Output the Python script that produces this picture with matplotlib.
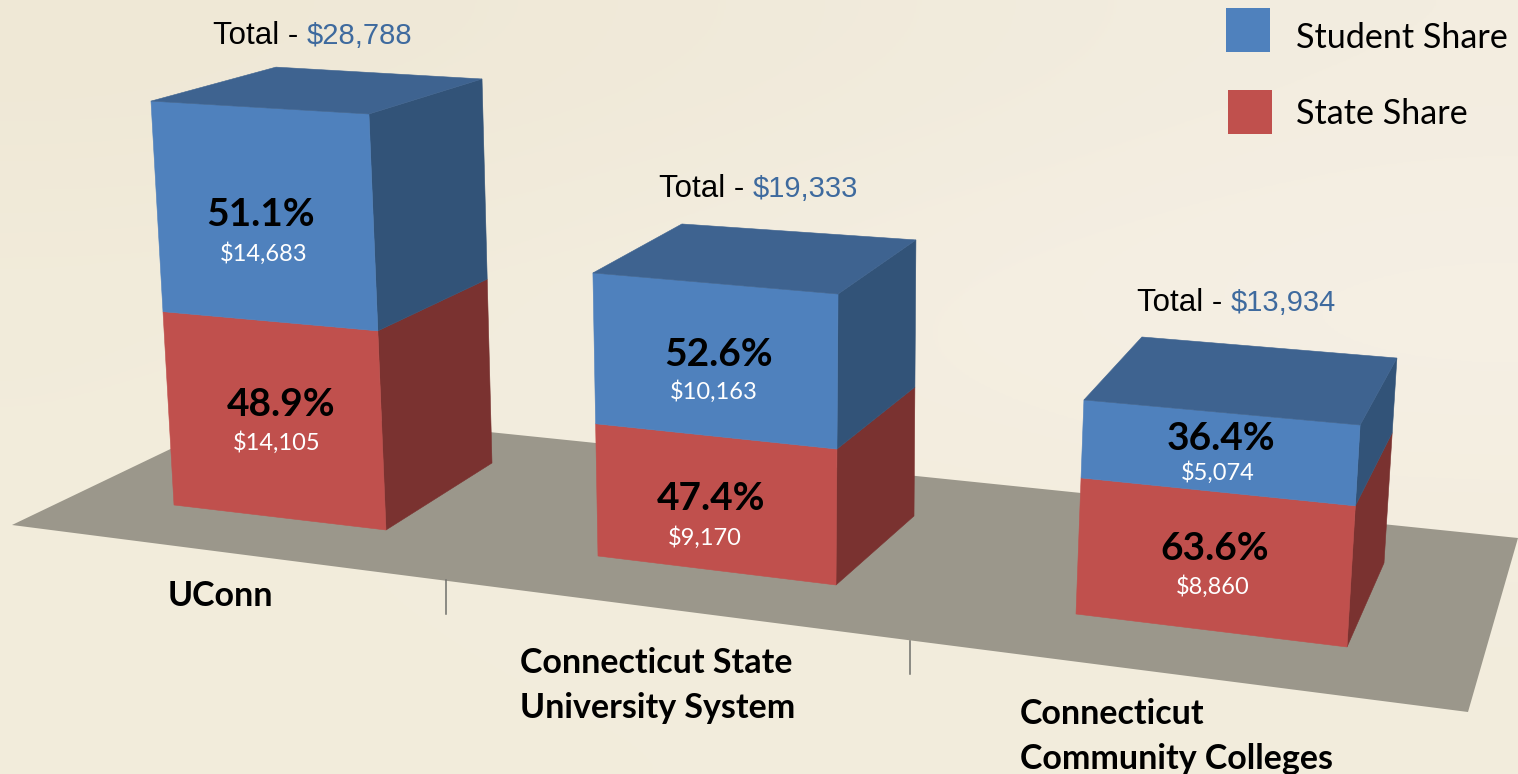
import numpy as np
import matplotlib
matplotlib.use("Agg")
import matplotlib.pyplot as plt
from matplotlib.patches import Polygon, Rectangle

# ---- data ----
categories = [["UConn"], ["Connecticut State", "University System"], ["Connecticut", "Community Colleges"]]
student_share = [14683, 10163, 5074]
state_share = [14105, 9170, 8860]
totals = [28788, 19333, 13934]
student_pct = [51.1, 52.6, 36.4]
state_pct = [48.9, 47.4, 63.6]
legend_labels = ["Student Share", "State Share"]

# ---- layout of the pseudo-3D scene (canvas pixels, y down) ----
W, H = 1518, 774
# base corners of each column: front-left, front-right, back-right
base_fl = [(174, 505), (598, 556), (1076, 614)]
base_fr = [(386, 530), (836, 585), (1347, 647)]
base_br = [(492, 463), (914, 516), (1384, 563)]
# perspective: pixels of height per dollar at each corner
ppd_fl = [0.01403, 0.01464, 0.01536]
ppd_fr = [0.01445, 0.01505, 0.01593]
ppd_br = [0.01334, 0.01428, 0.01471]
# lean of vertical edges: x shift per pixel of height
lean_fl = [-0.057, -0.018, 0.037]
lean_fr = [-0.041, 0.007, 0.059]
lean_br = [-0.026, 0.007, 0.063]
# back-left top corner relative to the front-left top corner
top_back_offset = [(125, -34), (89, -49), (58, -63)]
# foreshortening of the lower segment against the whole column
lower_fit = [0.977, 0.985, 1.0]

floor_outline = [(12, 525), (256, 408), (1518, 538), (1468, 712)]
tick_segments = [((446, 580), (446, 614)), ((910, 641), (910, 674))]

total_pos = [(307, 36), (753, 189), (1231, 303)]
pct_pos_student = [(261, 214), (719, 354), (1221, 438)]
usd_pos_student = [(264, 254), (714, 392), (1218, 473)]
pct_pos_state = [(281, 404), (711, 498), (1215, 548)]
usd_pos_state = [(277, 443), (705, 538), (1213, 587)]
cat_pos = [(168, 596), (520, 663), (1020, 714)]

BLUE, BLUE_SIDE, BLUE_TOP = "#4F81BD", "#325378", "#3E6390"
RED, RED_SIDE = "#C0504D", "#7A3230"
FLOOR = "#9B978B"

fig = plt.figure(figsize=(W / 100, H / 100), dpi=100)
ax = fig.add_axes([0, 0, 1, 1])
ax.set_xlim(0, W)
ax.set_ylim(H, 0)
ax.axis("off")

# soft parchment background
bg = np.array([
    [[239, 232, 214], [240, 233, 216], [241, 235, 220], [243, 237, 224]],
    [[242, 236, 219], [243, 237, 222], [245, 239, 227], [246, 240, 230]],
    [[242, 236, 219], [243, 237, 222], [243, 237, 222], [244, 238, 224]],
    [[242, 236, 219], [242, 236, 220], [242, 236, 220], [242, 236, 220]],
], dtype=float) / 255
ax.imshow(bg, extent=(0, W, H, 0), aspect="auto", interpolation="bicubic", zorder=0)
ax.set_xlim(0, W)
ax.set_ylim(H, 0)

ax.add_patch(Polygon(floor_outline, closed=True, fc=FLOOR, ec="none", zorder=1))
for p0, p1 in tick_segments:
    ax.plot([p0[0], p1[0]], [p0[1], p1[1]], color="#6F6F6B", lw=1.1, zorder=1)


def lift(base, ppd, lean, value):
    h = ppd * value
    return (base[0] + lean * h, base[1] - h)


for i in range(3):
    fl0, fr0, br0 = base_fl[i], base_fr[i], base_br[i]
    st = state_share[i]
    tot = totals[i]
    st_drawn = st * lower_fit[i]
    fl1 = lift(fl0, ppd_fl[i], lean_fl[i], st_drawn)
    fr1 = lift(fr0, ppd_fr[i], lean_fr[i], st_drawn)
    br1 = lift(br0, ppd_br[i], lean_br[i], st_drawn)
    fl2 = lift(fl0, ppd_fl[i], lean_fl[i], tot)
    fr2 = lift(fr0, ppd_fr[i], lean_fr[i], tot)
    br2 = lift(br0, ppd_br[i], lean_br[i], tot)
    bl2 = (fl2[0] + top_back_offset[i][0], fl2[1] + top_back_offset[i][1])
    faces = [
        ([fr0, br0, br1, fr1], RED_SIDE),
        ([fr1, br1, br2, fr2], BLUE_SIDE),
        ([fl0, fr0, fr1, fl1], RED),
        ([fl1, fr1, fr2, fl2], BLUE),
        ([fl2, fr2, br2, bl2], BLUE_TOP),
    ]
    for pts, col in faces:
        ax.add_patch(Polygon(pts, closed=True, fc=col, ec=col, lw=0.4, zorder=3))

    x, y = total_pos[i]
    ax.text(x - 9, y, "Total -", ha="right", va="center", family="Liberation Sans",
            fontsize=22.5, color="black", zorder=5)
    ax.text(x, y, f"${tot:,}", ha="left", va="center", family="Liberation Sans",
            fontsize=21, color="#3E6A9E", zorder=5)
    ax.text(*pct_pos_student[i], f"{student_pct[i]:.1f}%", ha="center", va="center",
            family="Lato", weight="bold", fontsize=28, color="black", zorder=5)
    ax.text(*usd_pos_student[i], f"${student_share[i]:,}", ha="center", va="center",
            family="Lato", fontsize=17, color="white", zorder=5)
    ax.text(*pct_pos_state[i], f"{state_pct[i]:.1f}%", ha="center", va="center",
            family="Lato", weight="bold", fontsize=28, color="black", zorder=5)
    ax.text(*usd_pos_state[i], f"${st:,}", ha="center", va="center",
            family="Lato", fontsize=17, color="white", zorder=5)
    cx, cy = cat_pos[i]
    for k, line in enumerate(categories[i]):
        ax.text(cx, cy + 45 * k, line, ha="left", va="center", family="Lato",
                weight="bold", fontsize=24.5, color="black", zorder=5)

# legend
ax.add_patch(Rectangle((1226, 8), 44, 44, fc=BLUE, ec="none", zorder=4))
ax.add_patch(Rectangle((1228, 90), 44, 44, fc=RED, ec="none", zorder=4))
ax.text(1296, 38, legend_labels[0], ha="left", va="center", family="Lato",
        fontsize=24.6, color="black", zorder=5)
ax.text(1296, 114, legend_labels[1], ha="left", va="center", family="Lato",
        fontsize=24.6, color="black", zorder=5)

fig.savefig("out.png", dpi=100)
